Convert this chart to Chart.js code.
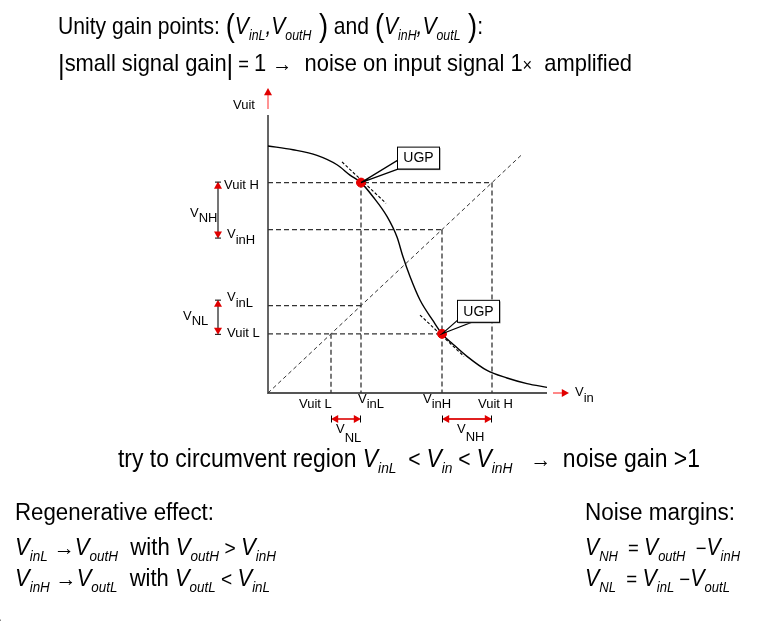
<!DOCTYPE html>
<html>
<head>
<meta charset="utf-8">
<script src="https://cdn.jsdelivr.net/npm/chart.js@4.4.1/dist/chart.umd.min.js"></script>
<style>
  body { margin: 0; background: #fff; }
  canvas { display: block; }
</style>
</head>
<body>
<canvas id="grafico" width="767" height="621"></canvas>
<script>
// transfer curve Vuit(Vin)
const curveVin  = [0, 0.25, 0.49, 0.69, 0.82, 0.93, 1.05, 1.19, 1.29, 1.35, 1.42, 1.52, 1.65, 1.74, 1.85, 1.99, 2.19, 2.39, 2.59, 2.79];
const curveVout = [2.63, 2.59, 2.53, 2.43, 2.32, 2.24, 2.09, 1.88, 1.66, 1.45, 1.24, 0.99, 0.77, 0.63, 0.52, 0.39, 0.24, 0.16, 0.10, 0.06];

// levels
const vinL = 0.93, vinH = 1.74, voutL = 0.63, voutH = 2.24;
const axisMax = [2.79, 2.96];   // x, y
const diagEnd = 2.55;
const tangentSpan = [[-0.19, 0.25], [-0.22, 0.22]];

const FONT = '"Liberation Sans", Arial, sans-serif';

// ── helpers ──────────────────────────────────────────────
function P(x, y) { return { x: x, y: y }; }
const GAP = { x: null, y: null };

function T(t, s, dy) { return { t: t, s: s, dy: dy || 0, i: false }; }
function I(t, s, dy) { return { t: t, s: s, dy: dy || 0, i: true }; }

function drawRuns(ctx, x, y, runs, width) {
    ctx.save();
    let total = 0;
    runs.forEach(r => {
        ctx.font = (r.i ? "italic " : "") + r.s + "px " + FONT;
        r.w = ctx.measureText(r.t).width;
        total += r.w;
    });
    const k = width ? width / total : 1;
    ctx.translate(x, y);
    ctx.scale(k, 1);
    ctx.fillStyle = "#000";
    ctx.textBaseline = "alphabetic";
    let cx = 0;
    runs.forEach(r => {
        ctx.font = (r.i ? "italic " : "") + r.s + "px " + FONT;
        ctx.fillText(r.t, cx, r.dy);
        cx += r.w;
    });
    ctx.restore();
}

function tri(ctx, x, y, dir, size) {
    // tip at (x,y)
    const s = size || 6, h = s * 0.9;
    ctx.beginPath();
    if (dir === "up")    { ctx.moveTo(x, y); ctx.lineTo(x - s / 2, y + h); ctx.lineTo(x + s / 2, y + h); }
    if (dir === "down")  { ctx.moveTo(x, y); ctx.lineTo(x - s / 2, y - h); ctx.lineTo(x + s / 2, y - h); }
    if (dir === "left")  { ctx.moveTo(x, y); ctx.lineTo(x + h, y - s / 2); ctx.lineTo(x + h, y + s / 2); }
    if (dir === "right") { ctx.moveTo(x, y); ctx.lineTo(x - h, y - s / 2); ctx.lineTo(x - h, y + s / 2); }
    ctx.closePath();
    ctx.fillStyle = "#e00000";
    ctx.fill();
}

function line(ctx, x1, y1, x2, y2, color, w) {
    ctx.beginPath();
    ctx.moveTo(x1, y1);
    ctx.lineTo(x2, y2);
    ctx.strokeStyle = color;
    ctx.lineWidth = w;
    ctx.stroke();
}

function dimV(ctx, x, y1, y2) {
    line(ctx, x, y1 + 4, x, y2 - 4, "#666", 1.8);
    tri(ctx, x, y1, "up", 8);
    tri(ctx, x, y2, "down", 8);
    line(ctx, x - 3, y1 + 0.5, x + 3, y1 + 0.5, "#000", 1);
    line(ctx, x - 3, y2 - 0.5, x + 3, y2 - 0.5, "#000", 1);
}

function dimH(ctx, x1, x2, y) {
    line(ctx, x1 + 4, y, x2 - 4, y, "#e02020", 1.8);
    tri(ctx, x1, y, "left", 8);
    tri(ctx, x2, y, "right", 8);
    line(ctx, x1 + 0.5, y - 3.5, x1 + 0.5, y + 3.5, "#000", 1);
    line(ctx, x2 - 0.5, y - 3.5, x2 - 0.5, y + 3.5, "#000", 1);
}

function ugpBox(ctx, px, py, bx, by, w1, w2) {
    // callout wedge
    ctx.beginPath();
    ctx.moveTo(px, py);
    ctx.lineTo(px + w1[0], py + w1[1]);
    ctx.lineTo(px + w2[0], py + w2[1]);
    ctx.closePath();
    ctx.fillStyle = "#fff";
    ctx.fill();
    ctx.strokeStyle = "#000";
    ctx.lineWidth = 1.2;
    ctx.stroke();
    const x = px + bx, y = py + by, w = 42, h = 22;
    ctx.fillStyle = "#777";
    ctx.fillRect(x + 1.5, y + 1.5, w, h);
    ctx.fillStyle = "#fff";
    ctx.fillRect(x, y, w, h);
    ctx.strokeStyle = "#000";
    ctx.lineWidth = 1;
    ctx.strokeRect(x + 0.5, y + 0.5, w, h);
    ctx.font = "14px " + FONT;
    ctx.fillStyle = "#000";
    ctx.textAlign = "center";
    ctx.textBaseline = "middle";
    ctx.fillText("UGP", x + w / 2 + 0.5, y + h / 2 + 1);
    ctx.textAlign = "left";
}

// ── datasets ─────────────────────────────────────────────
const curveData = curveVin.map((v, i) => P(v, curveVout[i]));

const guideData = [
    P(0, voutH), P(voutH, voutH), GAP,
    P(voutH, voutH), P(voutH, 0), GAP,
    P(0, vinH), P(vinH, vinH), GAP,
    P(vinH, vinH), P(vinH, 0), GAP,
    P(0, vinL), P(vinL, vinL), GAP,
    P(vinL, voutH), P(vinL, 0), GAP,
    P(0, voutL), P(vinH, voutL), GAP,
    P(voutL, voutL), P(voutL, 0)
];

const tangentData = [
    P(vinL + tangentSpan[0][0], voutH - tangentSpan[0][0] + 0.03), P(vinL + tangentSpan[0][1], voutH - tangentSpan[0][1] + 0.03), GAP,
    P(vinH + tangentSpan[1][0], voutL - tangentSpan[1][0] - 0.02), P(vinH + tangentSpan[1][1], voutL - tangentSpan[1][1] - 0.02)
];

const plugin = {
    id: "anotacoes",
    beforeDraw(chart) {
        const ctx = chart.ctx;
        ctx.save();
        ctx.fillStyle = "#fff";
        ctx.fillRect(0, 0, chart.width, chart.height);
        ctx.restore();
    },
    afterDraw(chart) {
        const ctx = chart.ctx;
        const sx = chart.scales.x, sy = chart.scales.y;
        const X = v => sx.getPixelForValue(v), Y = v => sy.getPixelForValue(v);
        ctx.save();

        // axis arrows
        line(ctx, X(0), Y(axisMax[1]) - 6, X(0), Y(axisMax[1]) - 20, "#ff7070", 1.5);
        tri(ctx, X(0), Y(axisMax[1]) - 27, "up", 8);
        line(ctx, X(axisMax[0]) + 6, Y(0), X(axisMax[0]) + 16, Y(0), "#ff6060", 1.5);
        tri(ctx, X(axisMax[0]) + 22, Y(0), "right", 8);

        // UGP callouts
        ugpBox(ctx, X(vinL), Y(voutH), 36, -36, [36, -22], [41, -15]);
        ugpBox(ctx, X(vinH), Y(voutL), 15, -34, [16, -14], [31, -12]);

        // axis labels
        drawRuns(ctx, X(0) - 35, Y(axisMax[1]) - 6, [T("Vuit", 13)]);
        drawRuns(ctx, X(axisMax[0]) + 28, Y(0) + 3, [T("V", 13), T("in", 13, 6)]);

        // left side
        dimV(ctx, X(0) - 50, Y(voutH) - 1, Y(vinH) + 9);
        dimV(ctx, X(0) - 50, Y(vinL) - 6, Y(voutL) + 1);
        drawRuns(ctx, X(0) - 44, Y(voutH) + 6, [T("Vuit H", 13)]);
        drawRuns(ctx, X(0) - 41, Y(vinH) + 8, [T("V", 13), T("inH", 13, 6)]);
        drawRuns(ctx, X(0) - 78, Y(voutH) + 34, [T("V", 13), T("NH", 13, 5)]);
        drawRuns(ctx, X(0) - 41, Y(vinL) - 5, [T("V", 13), T("inL", 13, 6)]);
        drawRuns(ctx, X(0) - 41, Y(voutL) + 3, [T("Vuit L", 13)]);
        drawRuns(ctx, X(0) - 85, Y(vinL) + 14, [T("V", 13), T("NL", 13, 5)]);

        // bottom side
        drawRuns(ctx, X(voutL) - 32, Y(0) + 15, [T("Vuit L", 13)]);
        drawRuns(ctx, X(vinL) - 3, Y(0) + 10, [T("V", 13), T("inL", 13, 5)]);
        drawRuns(ctx, X(vinH) - 19, Y(0) + 10, [T("V", 13), T("inH", 13, 5)]);
        drawRuns(ctx, X(voutH) - 14, Y(0) + 15, [T("Vuit H", 13)]);
        dimH(ctx, X(voutL), X(vinL), Y(0) + 26);
        dimH(ctx, X(vinH), X(voutH), Y(0) + 26);
        drawRuns(ctx, X(voutL) + 5, Y(0) + 40, [T("V", 13), T("NL", 13, 9)]);
        drawRuns(ctx, X(vinH) + 15, Y(0) + 40, [T("V", 13), T("NH", 13, 8)]);

        // header
        const m = 24, sb = 14, d = 6, pz = 31;
        drawRuns(ctx, 58, 34, [
            T("Unity gain points: ", m), T("(", pz, 2), I("V", m), I("inL", sb, d), I(",", m), I("V", m), I("outH", sb, d), T(" )", pz, 2),
            T(" and ", m), T("(", pz, 2), I("V", m), I("inH", sb, d), I(",", m), I("V", m), I("outL", sb, d), T(" )", pz, 2), T(":", m)
        ], 425);
        drawRuns(ctx, 58, 71, [
            T("|", 28, 3), T("small signal gain", m), T("|", 28, 3), T(" = ", 20), T("1 ", m), T("\u2192", 22), T("  noise on input signal 1", m),
            T("\u00d7", 18), T("  amplified", m)
        ], 574);

        drawRuns(ctx, 118, 467, [
            T("try to circumvent region ", 25), I("V", 25), I("inL", 15, 6), T("  < ", 23), I("V", 25), I("in", 15, 6),
            T(" < ", 23), I("V", 25), I("inH", 15, 6), T("   \u2192  ", 23), T("noise gain >1", 25)
        ], 582);

        // bottom notes
        const b = 23, bs = 14;
        drawRuns(ctx, 15, 520, [T("Regenerative effect:", b)], 199);
        drawRuns(ctx, 15, 555, [
            I("V", b), I("inL", bs, d), T(" \u2192", 22), I("V", b), I("outH", bs, d), T("  with ", b), I("V", b), I("outH", bs, d),
            T(" > ", 20), I("V", b), I("inH", bs, d)
        ], 261);
        drawRuns(ctx, 15, 586, [
            I("V", b), I("inH", bs, d), T(" \u2192", 22), I("V", b), I("outL", bs, d), T("  with ", b), I("V", b), I("outL", bs, d),
            T(" < ", 20), I("V", b), I("inL", bs, d)
        ], 255);
        drawRuns(ctx, 585, 520, [T("Noise margins:", b)], 150);
        drawRuns(ctx, 585, 555, [
            I("V", b), I("NH", bs, d), T("  = ", 20), I("V", b), I("outH", bs, d), T("  \u2212", 20), I("V", b), I("inH", bs, d)
        ], 155);
        drawRuns(ctx, 585, 586, [
            I("V", b), I("NL", bs, d), T("  = ", 20), I("V", b), I("inL", bs, d), T(" \u2212", 20), I("V", b), I("outL", bs, d)
        ], 145);

        // cut-off text at bottom edge
        drawRuns(ctx, -2, 629, [T("ter", 15)]);

        ctx.restore();
    }
};

// Chart.js paints the first dataset last, so the dots come first
new Chart(document.getElementById("grafico"), {
    type: "scatter",
    data: {
        datasets: [
            { data: [P(vinL, voutH), P(vinH, voutL)], showLine: false, pointRadius: 4.5, pointBackgroundColor: "#e80000", pointBorderColor: "#e80000", pointBorderWidth: 1, clip: false },
            { data: curveData, showLine: true, borderColor: "#000", borderWidth: 1.4, pointRadius: 0, cubicInterpolationMode: "monotone", clip: false },
            { data: tangentData, showLine: true, spanGaps: false, borderColor: "#000", borderWidth: 1.1, borderDash: [3, 2], pointRadius: 0, clip: false },
            { data: guideData, showLine: true, spanGaps: false, borderColor: "#333", borderWidth: 1.3, borderDash: [5, 3], pointRadius: 0, clip: false },
            { data: [P(0, 0), P(diagEnd, diagEnd)], showLine: true, borderColor: "#333", borderWidth: 1, borderDash: [4, 3], pointRadius: 0, clip: false },
            { data: [P(0, axisMax[1]), P(0, 0), P(axisMax[0], 0)], showLine: true, borderColor: "#555", borderWidth: 1.8, pointRadius: 0, clip: false }
        ]
    },
    options: {
        responsive: false,
        animation: false,
        devicePixelRatio: 1,
        layout: { padding: { left: 268, right: 767 - 547, top: 115, bottom: 621 - 393 } },
        plugins: { legend: { display: false }, tooltip: { enabled: false } },
        scales: {
            x: { type: "linear", min: 0, max: axisMax[0], display: false },
            y: { type: "linear", min: 0, max: axisMax[1], display: false }
        }
    },
    plugins: [plugin]
});
</script>
</body>
</html>
